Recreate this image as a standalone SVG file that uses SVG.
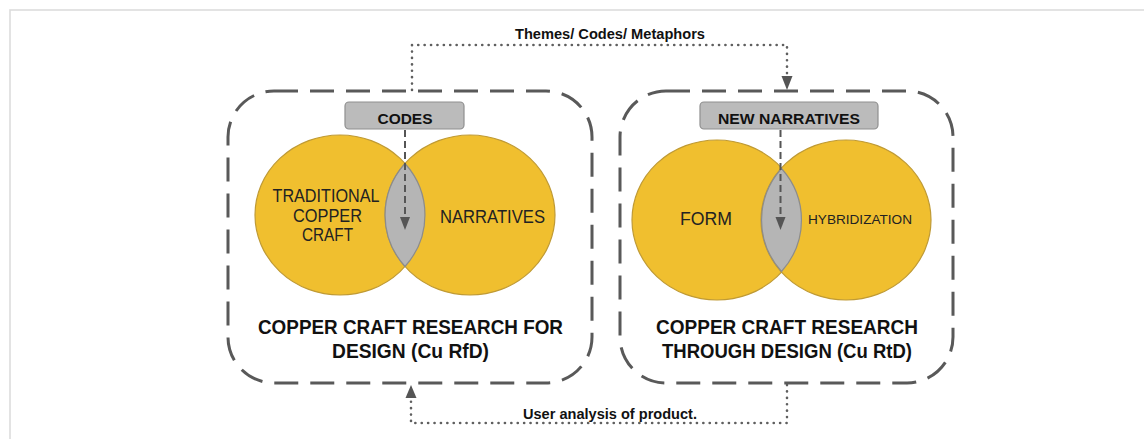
<svg xmlns="http://www.w3.org/2000/svg" width="1144" height="439" viewBox="0 0 1144 439">
<style>
  .frame{fill:#ffffff;stroke:#dcdcdc;stroke-width:1.6}
  .box{fill:none;stroke:#595959;stroke-width:3;stroke-dasharray:24 12}
  .venn{fill:#f0bf2f;stroke:#bf9a35;stroke-width:1.2}
  .lens{fill:#b5b5b5;stroke:#8c8c8c;stroke-width:1.2}
  .tag{fill:#bbbbbb;stroke:#8f8f8f;stroke-width:1.2}
  .dash{fill:none;stroke:#555555;stroke-width:2;stroke-dasharray:7 4}
  .dot{fill:none;stroke:#5f5f5f;stroke-width:2.6;stroke-dasharray:0.1 6.3;stroke-linecap:round}
  .head{fill:#555555}
  .lbl{font-family:"Liberation Sans",Arial,sans-serif;fill:#222222;text-anchor:middle}
  .b{font-weight:bold;fill:#111111}
</style>
<rect class="frame" x="10" y="10" width="1200" height="500"/>

<g id="connectors">
  <polyline class="dot" points="412,90 412,45 787,45 787,78"/>
  <polygon class="head" points="781.5,76 792.5,76 787,90"/>
  <polyline class="dot" points="787,385 787,423 411,423 411,398"/>
  <polygon class="head" points="405.5,398 416.5,398 411,385"/>
</g>
<text class="lbl b" x="610" y="39" font-size="14.5" textLength="190" lengthAdjust="spacingAndGlyphs">Themes/ Codes/ Metaphors</text>
<text class="lbl b" x="610" y="419" font-size="15.5" textLength="174" lengthAdjust="spacingAndGlyphs">User analysis of product.</text>

<g id="rfd">
  <rect class="box" x="228" y="91" width="364" height="292" rx="46" ry="46"/>
  <ellipse class="venn" cx="340" cy="215" rx="85" ry="80"/>
  <ellipse class="venn" cx="470" cy="215" rx="85" ry="80"/>
  <path class="lens" d="M405,163.5 A85,80 0 0,1 405,266.5 A85,80 0 0,1 405,163.5 Z"/>
  <rect class="tag" x="345" y="102" width="119" height="27" rx="4"/>
  <text class="lbl b" x="405" y="124" font-size="15.5" textLength="55" lengthAdjust="spacingAndGlyphs">CODES</text>
  <line class="dash" x1="405" y1="130" x2="405" y2="217"/>
  <polygon class="head" points="400,217 410,217 405,230"/>
  <text class="lbl" x="326" y="201.5" font-size="18" textLength="107" lengthAdjust="spacingAndGlyphs">TRADITIONAL</text>
  <text class="lbl" x="327.5" y="221.5" font-size="18" textLength="69" lengthAdjust="spacingAndGlyphs">COPPER</text>
  <text class="lbl" x="327.5" y="241" font-size="18" textLength="51" lengthAdjust="spacingAndGlyphs">CRAFT</text>
  <text class="lbl" x="492.5" y="222.5" font-size="17.5" textLength="105" lengthAdjust="spacingAndGlyphs">NARRATIVES</text>
  <text class="lbl b" x="410.5" y="334" font-size="21" textLength="305" lengthAdjust="spacingAndGlyphs">COPPER CRAFT RESEARCH FOR</text>
  <text class="lbl b" x="410.5" y="358" font-size="21" textLength="157" lengthAdjust="spacingAndGlyphs">DESIGN (Cu RfD)</text>
</g>

<g id="rtd">
  <rect class="box" x="620" y="91" width="333" height="292" rx="46" ry="46"/>
  <ellipse class="venn" cx="717" cy="220" rx="85" ry="80"/>
  <ellipse class="venn" cx="846" cy="220" rx="85" ry="80"/>
  <path class="lens" d="M781.5,168.5 A85,80 0 0,1 781.5,271.5 A85,80 0 0,1 781.5,168.5 Z"/>
  <rect class="tag" x="700" y="102" width="178" height="27" rx="4"/>
  <text class="lbl b" x="789" y="124" font-size="15.5" textLength="142" lengthAdjust="spacingAndGlyphs">NEW NARRATIVES</text>
  <line class="dash" x1="780.5" y1="130" x2="780.5" y2="217"/>
  <polygon class="head" points="775.5,217 785.5,217 780.5,230"/>
  <text class="lbl" x="706" y="224.5" font-size="18" textLength="52" lengthAdjust="spacingAndGlyphs">FORM</text>
  <text class="lbl" x="860" y="224" font-size="13.5" textLength="104" lengthAdjust="spacingAndGlyphs">HYBRIDIZATION</text>
  <text class="lbl b" x="787" y="334" font-size="21" textLength="262" lengthAdjust="spacingAndGlyphs">COPPER CRAFT RESEARCH</text>
  <text class="lbl b" x="787" y="358" font-size="21" textLength="250" lengthAdjust="spacingAndGlyphs">THROUGH DESIGN (Cu RtD)</text>
</g>
</svg>
